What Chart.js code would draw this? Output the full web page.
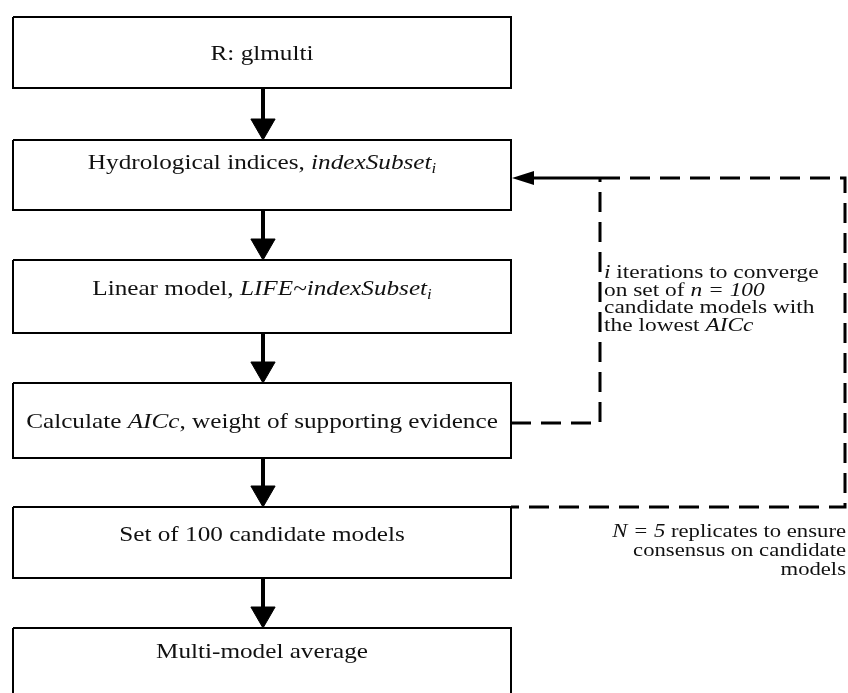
<!DOCTYPE html>
<html>
<head>
<meta charset="utf-8">
<script src="https://cdn.jsdelivr.net/npm/chart.js@4.4.1/dist/chart.umd.min.js"></script>
<style>
  html, body { margin: 0; padding: 0; background: #fff; }
  #flow { display: block; }
</style>
</head>
<body>
<canvas id="flow" width="848" height="693"></canvas>
<script>
// flow steps, top to bottom (*..* = italic, _x = subscript)
const steps = [
  'R: glmulti',
  'Hydrological indices, *indexSubset_i*',
  'Linear model, *LIFE~indexSubset_i*',
  'Calculate *AICc*, weight of supporting evidence',
  'Set of 100 candidate models',
  'Multi-model average'
];
// diagram coordinates (1 unit = 1 px of the reference)
const boxTop = [17, 140, 260, 383, 507, 628];
const boxBottom = [88, 210, 333, 458, 578, 700];
const labelBaseline = [60, 169, 295, 428, 541, 658];
const boxLeft = 13, boxRight = 511, flowX = 263;

// feedback loops
const innerLoop = [[511, 423], [600, 423], [600, 178]];
const feedback = [[600, 178], [530, 178]];
const outerLoop = [[600, 178], [845, 178], [845, 507], [511, 507]];

const noteInner = ['*i* iterations to converge', 'on set of *n = 100*', 'candidate models with', 'the lowest *AICc*'];
const noteInnerX = 604, noteInnerBaseline = [278, 295.5, 313, 330.5];
const noteOuter = ['*N = 5* replicates to ensure', 'consensus on candidate', 'models'];
const noteOuterX = 846, noteOuterBaseline = [537, 556, 575];

const FONT = '"Liberation Serif", "Times New Roman", serif';
const INK = '#111';

const pts = arr => arr.map(p => ({ x: p[0], y: p[1] }));

// left pointing arrow head image
const leftHead = document.createElement('canvas');
leftHead.width = 22; leftHead.height = 14;
(function () {
  const c = leftHead.getContext('2d');
  c.fillStyle = '#000';
  c.beginPath(); c.moveTo(0, 7); c.lineTo(22, 0); c.lineTo(22, 14); c.closePath(); c.fill();
})();

const datasets = [];
steps.forEach((s, i) => {
  datasets.push({
    data: pts([[boxLeft, boxTop[i]], [boxRight, boxTop[i]], [boxRight, boxBottom[i]], [boxLeft, boxBottom[i]], [boxLeft, boxTop[i]]]),
    borderColor: '#000', borderWidth: 2, pointRadius: 0, showLine: true, tension: 0
  });
});
for (let i = 0; i < steps.length - 1; i++) {
  datasets.push({
    data: pts([[flowX, boxBottom[i]], [flowX, boxTop[i + 1] - 14]]),
    borderColor: '#000', borderWidth: 4, pointRadius: 0, showLine: true
  });
}
datasets.push({
  data: steps.slice(1).map((s, i) => ({ x: flowX, y: boxTop[i + 1] - 14 })),
  showLine: false, pointStyle: 'triangle', rotation: 180, pointRadius: 14,
  backgroundColor: '#000', borderColor: '#000', borderWidth: 1
});
datasets.push({
  data: pts(innerLoop), borderColor: '#000', borderWidth: 3, borderDash: [20, 10],
  pointRadius: 0, showLine: true, borderCapStyle: 'butt'
});
datasets.push({
  data: pts(outerLoop), borderColor: '#000', borderWidth: 3, borderDash: [20, 10],
  pointRadius: 0, showLine: true, borderCapStyle: 'butt'
});
datasets.push({
  data: pts(feedback), borderColor: '#000', borderWidth: 3, pointRadius: 0, showLine: true
});
datasets.push({
  data: [{ x: boxRight + 12, y: feedback[0][1] }], showLine: false,
  pointStyle: leftHead, pointRadius: 11
});

function drawRich(ctx, str, x, y, size, align, stretch) {
  const runs = [];
  let italic = false, buf = '';
  const flush = () => { if (buf) runs.push({ t: buf, it: italic, sub: false }); buf = ''; };
  for (let i = 0; i < str.length; i++) {
    const c = str[i];
    if (c === '*') { flush(); italic = !italic; }
    else if (c === '_') { flush(); runs.push({ t: str[++i], it: italic, sub: true }); }
    else buf += c;
  }
  flush();
  const fontOf = r => (r.it ? 'italic ' : '') + (r.sub ? Math.round(size * 0.65) : size) + 'px ' + FONT;
  let w = 0;
  runs.forEach(r => { ctx.font = fontOf(r); r.w = ctx.measureText(r.t).width; w += r.w; });
  ctx.save();
  ctx.translate(x, y);
  ctx.scale(stretch, 1);
  ctx.textAlign = 'left';
  ctx.textBaseline = 'alphabetic';
  ctx.fillStyle = INK;
  let cx = align === 'center' ? -w / 2 : align === 'right' ? -w : 0;
  runs.forEach(r => {
    ctx.font = fontOf(r);
    ctx.fillText(r.t, cx, r.sub ? size * 0.2 : 0);
    cx += r.w;
  });
  ctx.restore();
}

const labels = {
  id: 'flowLabels',
  afterDatasetsDraw(chart) {
    const { ctx, scales: { x, y } } = chart;
    const cx = x.getPixelForValue((boxLeft + boxRight) / 2);
    steps.forEach((s, i) => drawRich(ctx, s, cx, y.getPixelForValue(labelBaseline[i]), 21, 'center', 1.2));
    noteInner.forEach((s, i) => drawRich(ctx, s, x.getPixelForValue(noteInnerX), y.getPixelForValue(noteInnerBaseline[i]), 18, 'left', 1.3));
    noteOuter.forEach((s, i) => drawRich(ctx, s, x.getPixelForValue(noteOuterX), y.getPixelForValue(noteOuterBaseline[i]), 18, 'right', 1.26));
  }
};

new Chart(document.getElementById('flow'), {
  type: 'scatter',
  data: { datasets },
  options: {
    responsive: false,
    animation: false,
    layout: { padding: 0, autoPadding: false },
    plugins: { legend: { display: false }, tooltip: { enabled: false } },
    scales: {
      x: { type: 'linear', min: 0, max: 848, display: false },
      y: { type: 'linear', min: 0, max: 693, reverse: true, display: false }
    }
  },
  plugins: [labels]
});
</script>
</body>
</html>
